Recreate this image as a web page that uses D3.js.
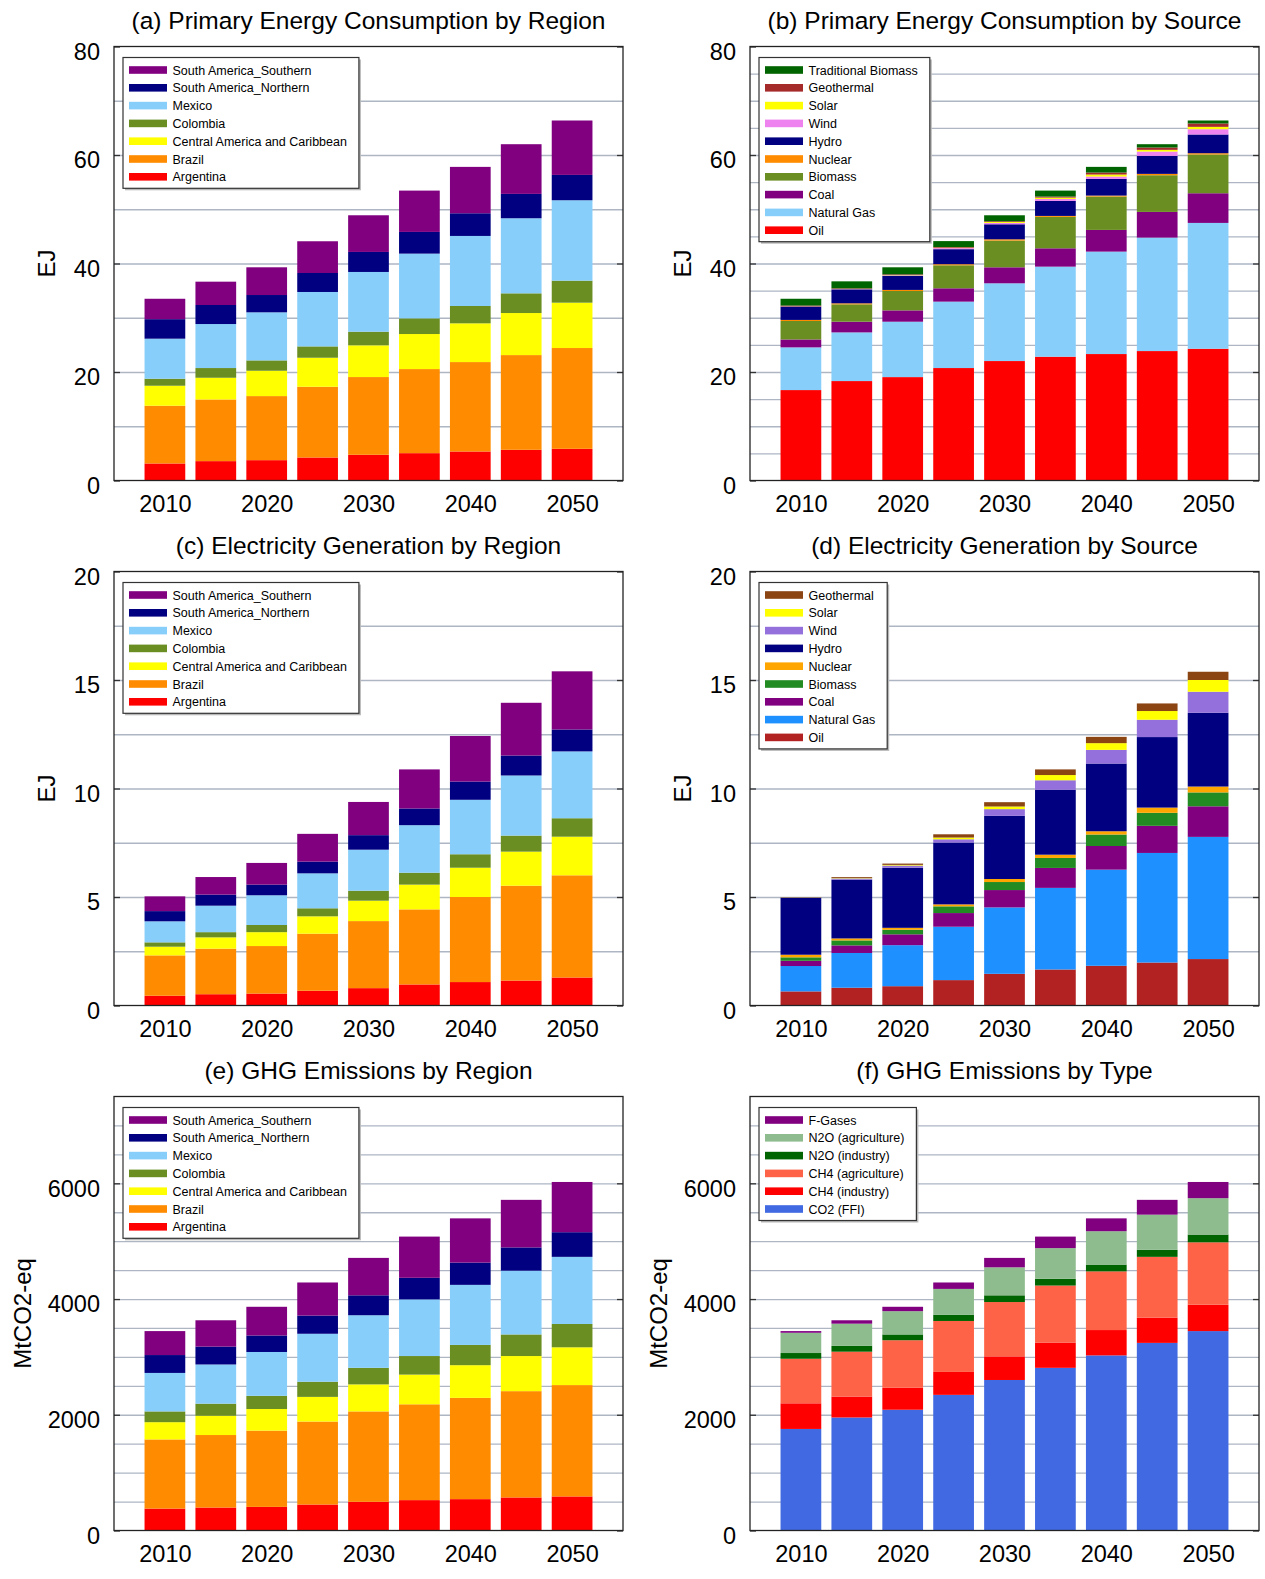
<!DOCTYPE html>
<html>
<head>
<meta charset="utf-8">
<script src="https://cdn.jsdelivr.net/npm/d3@7"></script>
<style>
  body { margin: 0; background: #fff; }
  svg { display: block; }
  text { font-family: "Liberation Sans", Arial, Helvetica, sans-serif; fill: #000; }
</style>
</head>
<body>
<svg id="chart" width="1265" height="1579"></svg>
<script>
// ---- data ----
const years = [2010, 2015, 2020, 2025, 2030, 2035, 2040, 2045, 2050];
const yearTicks = [2010, 2020, 2030, 2040, 2050];

// regions, stacked bottom -> top
const regionNames = ["Argentina", "Brazil", "Central America and Caribbean", "Colombia", "Mexico", "South America_Northern", "South America_Southern"];
const regionColors = ["#ff0000", "#ff8c00", "#ffff00", "#6b8e23", "#87cefa", "#000080", "#800080"];

// (a) primary energy by region, EJ
const primaryByRegion = [
  [3.14, 3.57, 3.75, 4.24, 4.74, 5.04, 5.35, 5.66, 5.84],
  [10.64, 11.37, 11.81, 13.04, 14.33, 15.5, 16.48, 17.46, 18.58],
  [3.69, 4.0, 4.67, 5.35, 5.84, 6.46, 7.14, 7.75, 8.36],
  [1.29, 1.79, 1.91, 2.09, 2.52, 2.89, 3.2, 3.63, 4.06],
  [7.38, 8.11, 8.86, 10.03, 11.01, 11.93, 12.91, 13.84, 14.82],
  [3.6, 3.51, 3.19, 3.5, 3.69, 4.0, 4.18, 4.49, 4.67],
  [3.76, 4.3, 5.11, 5.85, 6.76, 7.62, 8.55, 9.16, 10.03]
];

// (b) primary energy by source, EJ
const primarySources = ["Oil", "Natural Gas", "Coal", "Biomass", "Nuclear", "Hydro", "Wind", "Solar", "Geothermal", "Traditional Biomass"];
const primarySourceColors = ["#ff0000", "#87cefa", "#800080", "#6b8e23", "#ff8c00", "#000080", "#ee82ee", "#ffff00", "#a52a2a", "#006400"];
const primaryBySource = [
  [16.67, 18.33, 19.06, 20.73, 22.02, 22.82, 23.31, 23.86, 24.29],
  [7.87, 8.97, 10.21, 12.24, 14.33, 16.6, 18.88, 20.91, 23.19],
  [1.46, 1.97, 2.09, 2.46, 2.95, 3.38, 4.0, 4.74, 5.47],
  [3.4, 3.2, 3.57, 4.24, 4.92, 5.79, 6.15, 6.76, 7.14],
  [0.2, 0.19, 0.2, 0.2, 0.24, 0.18, 0.18, 0.25, 0.24],
  [2.45, 2.58, 2.62, 2.77, 2.77, 2.77, 3.08, 3.32, 3.45],
  [0.03, 0.05, 0.08, 0.2, 0.25, 0.36, 0.43, 0.8, 0.98],
  [0.02, 0.03, 0.05, 0.07, 0.18, 0.25, 0.37, 0.31, 0.43],
  [0.15, 0.1, 0.12, 0.12, 0.13, 0.19, 0.37, 0.43, 0.62],
  [1.25, 1.29, 1.3, 1.1, 1.1, 1.1, 1.04, 0.61, 0.55]
];

// (c) electricity by region, EJ
const elecByRegion = [
  [0.45, 0.52, 0.55, 0.68, 0.8, 0.97, 1.08, 1.15, 1.29],
  [1.86, 2.1, 2.19, 2.63, 3.09, 3.46, 3.92, 4.37, 4.71],
  [0.4, 0.52, 0.64, 0.8, 0.94, 1.14, 1.35, 1.57, 1.78],
  [0.2, 0.24, 0.33, 0.37, 0.46, 0.55, 0.62, 0.74, 0.85],
  [0.97, 1.22, 1.37, 1.61, 1.89, 2.19, 2.51, 2.77, 3.08],
  [0.47, 0.51, 0.49, 0.54, 0.67, 0.77, 0.84, 0.92, 1.01],
  [0.68, 0.81, 1.0, 1.28, 1.53, 1.8, 2.1, 2.43, 2.68]
];

// (d) electricity by source, EJ
const elecSources = ["Oil", "Natural Gas", "Coal", "Biomass", "Nuclear", "Hydro", "Wind", "Solar", "Geothermal"];
const elecSourceColors = ["#b22222", "#1e90ff", "#800080", "#228b22", "#ffa500", "#000080", "#9370db", "#ffff00", "#8b4513"];
const elecBySource = [
  [0.65, 0.82, 0.89, 1.17, 1.46, 1.66, 1.83, 1.98, 2.14],
  [1.17, 1.6, 1.89, 2.46, 3.06, 3.76, 4.43, 5.05, 5.63],
  [0.24, 0.35, 0.5, 0.63, 0.8, 0.92, 1.09, 1.25, 1.41],
  [0.16, 0.23, 0.21, 0.31, 0.37, 0.46, 0.53, 0.6, 0.64],
  [0.12, 0.09, 0.09, 0.09, 0.14, 0.15, 0.15, 0.24, 0.27],
  [2.63, 2.71, 2.77, 2.85, 2.91, 2.99, 3.12, 3.25, 3.4],
  [0.01, 0.06, 0.1, 0.15, 0.31, 0.44, 0.63, 0.8, 0.97],
  [0.01, 0.02, 0.03, 0.08, 0.12, 0.24, 0.31, 0.4, 0.54],
  [0.01, 0.04, 0.06, 0.15, 0.2, 0.26, 0.29, 0.35, 0.38]
];

// (e) GHG by region, MtCO2-eq
const ghgByRegion = [
  [379, 397, 408, 449, 496, 525, 542, 571, 589],
  [1195, 1253, 1318, 1434, 1562, 1656, 1750, 1837, 1924],
  [298, 333, 373, 426, 467, 513, 565, 607, 653],
  [186, 209, 228, 262, 286, 321, 350, 373, 403],
  [665, 677, 758, 829, 909, 979, 1038, 1102, 1160],
  [309, 309, 285, 314, 344, 373, 385, 402, 426],
  [414, 455, 496, 572, 647, 712, 764, 822, 868]
];

// (f) GHG by type, MtCO2-eq
const ghgTypes = ["CO2 (FFI)", "CH4 (industry)", "CH4 (agriculture)", "N2O (industry)", "N2O (agriculture)", "F-Gases"];
const ghgTypeColors = ["#4169e1", "#ff0000", "#ff6347", "#006400", "#8fbc8f", "#800080"];
const ghgByType = [
  [1755, 1953, 2087, 2344, 2601, 2811, 3026, 3242, 3446],
  [443, 362, 379, 396, 408, 437, 438, 437, 455],
  [770, 775, 822, 881, 939, 985, 1014, 1050, 1079],
  [99, 100, 100, 105, 116, 117, 117, 122, 134],
  [350, 384, 402, 449, 484, 530, 577, 607, 629],
  [29, 59, 76, 111, 163, 199, 222, 256, 280]
];

// ---- layout ----
const colX = [114, 750];
const rowTop = [46.5, 571.5, 1096.5];
const plotW = 509, plotH = 434;

const panels = [
  { title: "(a) Primary Energy Consumption by Region", ylab: "EJ", labOff: 67, names: regionNames, colors: regionColors, values: primaryByRegion, yMax: 80, grid: 10, major: 20, col: 0, row: 0 },
  { title: "(b) Primary Energy Consumption by Source", ylab: "EJ", labOff: 67, names: primarySources, colors: primarySourceColors, values: primaryBySource, yMax: 80, grid: 5, major: 20, col: 1, row: 0 },
  { title: "(c) Electricity Generation by Region", ylab: "EJ", labOff: 67, names: regionNames, colors: regionColors, values: elecByRegion, yMax: 20, grid: 2.5, major: 5, col: 0, row: 1 },
  { title: "(d) Electricity Generation by Source", ylab: "EJ", labOff: 67, names: elecSources, colors: elecSourceColors, values: elecBySource, yMax: 20, grid: 2.5, major: 5, col: 1, row: 1 },
  { title: "(e) GHG Emissions by Region", ylab: "MtCO2-eq", labOff: 91, names: regionNames, colors: regionColors, values: ghgByRegion, yMax: 7500, grid: 500, major: 2000, col: 0, row: 2 },
  { title: "(f) GHG Emissions by Type", ylab: "MtCO2-eq", labOff: 91, names: ghgTypes, colors: ghgTypeColors, values: ghgByType, yMax: 7500, grid: 500, major: 2000, col: 1, row: 2 }
];

const svg = d3.select("#chart");

panels.forEach(drawPanel);

function drawPanel(p) {
  const x0 = colX[p.col], top = rowTop[p.row];
  const g = svg.append("g");

  const x = d3.scaleLinear().domain([2005, 2055]).range([x0, x0 + plotW]);
  const y = d3.scaleLinear().domain([0, p.yMax]).range([top + plotH, top]);

  // gridlines
  const gridVals = d3.range(p.grid, p.yMax - 1e-9, p.grid);
  g.append("g")
    .attr("transform", `translate(${x0},0)`)
    .call(d3.axisLeft(y).tickValues(gridVals).tickSize(-plotW).tickFormat(""))
    .call(a => a.select(".domain").remove())
    .selectAll("line").attr("stroke", "#aeb6c4").attr("stroke-width", 1.3);

  // stacked bars
  const rows = years.map((yr, i) => {
    const o = { year: yr };
    p.names.forEach((n, k) => { o[n] = p.values[k][i]; });
    return o;
  });
  const series = d3.stack().keys(p.names)(rows);
  const bw = (x(2015) - x(2010)) * 0.8;

  g.append("g").selectAll("g")
    .data(series)
    .join("g")
    .attr("fill", (d, i) => p.colors[i])
    .selectAll("rect")
    .data(d => d)
    .join("rect")
    .attr("x", d => x(d.data.year) - bw / 2)
    .attr("width", bw)
    .attr("y", d => y(d[1]))
    .attr("height", d => y(d[0]) - y(d[1]));

  // major ticks, left with labels and right
  const majorVals = d3.range(0, p.yMax + 1e-9, p.major);
  g.append("g")
    .attr("transform", `translate(${x0},0)`)
    .call(d3.axisLeft(y).tickValues(majorVals).tickSize(-6).tickPadding(14).tickFormat(d3.format("d")))
    .call(a => a.select(".domain").remove())
    .call(a => a.selectAll("line").attr("stroke", "#333").attr("stroke-width", 1.3))
    .call(a => a.selectAll("text").attr("font-size", 23.5).attr("dy", "0.55em")
      .style("font-family", '"Liberation Sans", Arial, sans-serif').attr("fill", "#000"));

  g.append("g")
    .attr("transform", `translate(${x0 + plotW},0)`)
    .call(d3.axisRight(y).tickValues(majorVals).tickSize(-6).tickFormat(""))
    .call(a => a.select(".domain").remove())
    .selectAll("line").attr("stroke", "#333").attr("stroke-width", 1.3);

  // year labels
  g.append("g")
    .attr("transform", `translate(0,${top + plotH})`)
    .call(d3.axisBottom(x).tickValues(yearTicks).tickSize(0).tickPadding(14.5).tickFormat(d3.format("d")))
    .call(a => a.select(".domain").remove())
    .call(a => a.selectAll("text").attr("font-size", 23.5)
      .style("font-family", '"Liberation Sans", Arial, sans-serif').attr("fill", "#000"));

  // frame
  g.append("rect")
    .attr("x", x0).attr("y", top)
    .attr("width", plotW).attr("height", plotH)
    .attr("fill", "none").attr("stroke", "#222").attr("stroke-width", 1.3);

  // title
  g.append("text")
    .attr("x", x0 + plotW / 2).attr("y", top - 17.5)
    .attr("text-anchor", "middle").attr("font-size", 24.5)
    .text(p.title);

  // y label
  g.append("text")
    .attr("transform", `translate(${x0 - p.labOff},${top + plotH / 2}) rotate(-90)`)
    .attr("text-anchor", "middle").attr("dy", "0.35em").attr("font-size", 24)
    .text(p.ylab);

  // legend (top entry = top of stack)
  const rowH = 17.8;
  const lx = x0 + 9, ly = top + 11;
  const items = p.names.map((n, i) => ({ name: n, color: p.colors[i] })).reverse();
  const lg = g.append("g");
  const shadow = lg.append("rect").attr("fill", "#b8b8b8");
  const box = lg.append("rect").attr("fill", "#fff").attr("stroke", "#333").attr("stroke-width", 1.2);
  const entry = lg.selectAll("g.item")
    .data(items)
    .join("g")
    .attr("class", "item")
    .attr("transform", (d, i) => `translate(${lx},${ly + 12.5 + i * rowH})`);
  entry.append("rect")
    .attr("x", 6).attr("y", -3.8).attr("width", 38).attr("height", 7.6)
    .attr("fill", d => d.color);
  const labels = entry.append("text")
    .attr("x", 49.5).attr("dy", "0.36em").attr("font-size", 12.5)
    .text(d => d.name);
  let maxW = 0;
  labels.each(function () { maxW = Math.max(maxW, this.getComputedTextLength()); });
  const bwL = 49.5 + maxW + 12;
  const bhL = 12.5 + (items.length - 1) * rowH + 11.5;
  shadow.attr("x", lx + 2).attr("y", ly + 2).attr("width", bwL).attr("height", bhL);
  box.attr("x", lx).attr("y", ly).attr("width", bwL).attr("height", bhL);
}
</script>
</body>
</html>
